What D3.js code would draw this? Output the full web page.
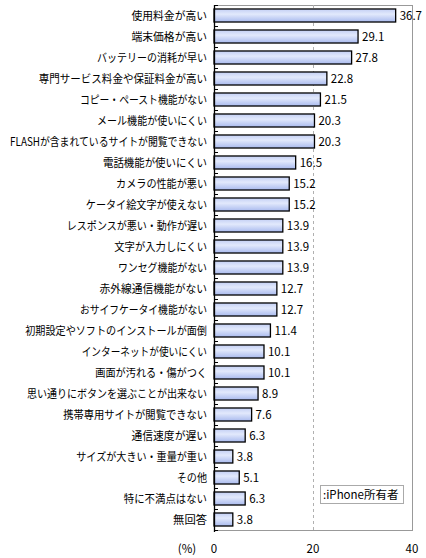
<!DOCTYPE html>
<html>
<head>
<meta charset="utf-8">
<script src="https://cdn.jsdelivr.net/npm/d3@7"></script>
<style>
  body { margin: 0; background: #fff; }
  svg { display: block; font-family: "Noto Sans CJK JP", sans-serif; }
</style>
</head>
<body>
<svg id="chart" width="426" height="558"></svg>
<script>
const categories = [
  "使用料金が高い",
  "端末価格が高い",
  "バッテリーの消耗が早い",
  "専門サービス料金や保証料金が高い",
  "コピー・ペースト機能がない",
  "メール機能が使いにくい",
  "FLASHが含まれているサイトが閲覧できない",
  "電話機能が使いにくい",
  "カメラの性能が悪い",
  "ケータイ絵文字が使えない",
  "レスポンスが悪い・動作が遅い",
  "文字が入力しにくい",
  "ワンセグ機能がない",
  "赤外線通信機能がない",
  "おサイフケータイ機能がない",
  "初期設定やソフトのインストールが面倒",
  "インターネットが使いにくい",
  "画面が汚れる・傷がつく",
  "思い通りにボタンを選ぶことが出来ない",
  "携帯専用サイトが閲覧できない",
  "通信速度が遅い",
  "サイズが大きい・重量が重い",
  "その他",
  "特に不満点はない",
  "無回答",
];
const values = [
  36.7, 29.1, 27.8, 22.8, 21.5, 20.3, 20.3, 16.5, 15.2, 15.2, 13.9, 13.9, 13.9,
  12.7, 12.7, 11.4, 10.1, 10.1, 8.9, 7.6, 6.3, 3.8, 5.1, 6.3, 3.8,
];
const xTicks = [0, 20, 40];
const seriesName = "iPhone所有者";

const svg = d3.select("#chart");

const plot = { left: 214, right: 412, top: 5, bottom: 530 };

const x = d3.scaleLinear().domain([0, 40]).range([plot.left, plot.right]);
const y = d3.scaleBand().domain(categories).range([plot.top, plot.bottom])
  .paddingInner(0.38).paddingOuter(0.19);

// the original font sets kana narrower than kanji, so squeeze labels to match
function labelWidth(s) {
  let w = 0;
  for (const ch of s) {
    const c = ch.codePointAt(0);
    if (c < 128) w += 6;
    else if (c >= 0x4e00 && c <= 0x9fff) w += 11.3;
    else w += 9.5;
  }
  return w;
}

const defs = svg.append("defs");
const grad = defs.append("linearGradient")
  .attr("id", "barGrad").attr("x1", 0).attr("y1", 0).attr("x2", 0).attr("y2", 1);
grad.append("stop").attr("offset", "0%").attr("stop-color", "#c3cff4");
grad.append("stop").attr("offset", "40%").attr("stop-color", "#e2e9fc");
grad.append("stop").attr("offset", "100%").attr("stop-color", "#a9baee");

// plot frame
svg.append("rect")
  .attr("x", plot.left + 0.5).attr("y", plot.top + 0.5)
  .attr("width", plot.right - plot.left).attr("height", plot.bottom - plot.top)
  .attr("fill", "none").attr("stroke", "#999").attr("stroke-width", 1);

// dashed grid line
svg.selectAll(".grid")
  .data(xTicks.filter(d => d > 0 && d < 40))
  .join("line")
  .attr("class", "grid")
  .attr("x1", d => Math.round(x(d)) + 0.5).attr("x2", d => Math.round(x(d)) + 0.5)
  .attr("y1", plot.top).attr("y2", plot.bottom)
  .attr("stroke", "#b0b0b0").attr("stroke-dasharray", "3,3");

// bars
svg.selectAll(".bar")
  .data(values)
  .join("rect")
  .attr("class", "bar")
  .attr("x", x(0))
  .attr("y", (d, i) => y(categories[i]))
  .attr("width", d => x(d) - x(0))
  .attr("height", y.bandwidth())
  .attr("fill", "url(#barGrad)")
  .attr("stroke", "#000").attr("stroke-width", 1.3);

// value labels
svg.selectAll(".val")
  .data(values)
  .join("text")
  .attr("class", "val")
  .attr("x", d => x(d) + 4)
  .attr("y", (d, i) => y(categories[i]) + y.bandwidth() / 2)
  .attr("dy", "0.36em")
  .attr("font-size", 11.5)
  .attr("fill", "#000")
  .text(d => d.toFixed(1));

// left axis with inward ticks at category boundaries
svg.append("line")
  .attr("x1", plot.left + 0.5).attr("x2", plot.left + 0.5)
  .attr("y1", plot.top).attr("y2", plot.bottom + 2)
  .attr("stroke", "#000").attr("stroke-width", 1.3);
const bounds = d3.range(categories.length + 1)
  .map(i => plot.top + i * (plot.bottom - plot.top) / categories.length);
svg.selectAll(".ytick")
  .data(bounds)
  .join("line")
  .attr("class", "ytick")
  .attr("x1", plot.left).attr("x2", plot.left + 4)
  .attr("y1", d => Math.round(d) + 0.5).attr("y2", d => Math.round(d) + 0.5)
  .attr("stroke", "#000").attr("stroke-width", 1);

// category labels
svg.selectAll(".cat")
  .data(categories)
  .join("text")
  .attr("class", "cat")
  .attr("x", plot.left - 7)
  .attr("y", d => y(d) + y.bandwidth() / 2)
  .attr("dy", "0.36em")
  .attr("text-anchor", "end")
  .attr("font-size", 11.5)
  .attr("fill", "#000")
  .attr("textLength", d => Math.min(labelWidth(d), 205))
  .attr("lengthAdjust", "spacingAndGlyphs")
  .text(d => d);

// x tick labels
svg.selectAll(".xtick")
  .data(xTicks)
  .join("text")
  .attr("class", "xtick")
  .attr("x", d => x(d))
  .attr("y", 553)
  .attr("text-anchor", "middle")
  .attr("font-size", 11.5)
  .text(d => d);

svg.append("text")
  .attr("x", 187).attr("y", 553)
  .attr("text-anchor", "middle")
  .attr("font-size", 11.5)
  .text("(%)");

// legend
svg.append("rect")
  .attr("x", 320.5).attr("y", 485.5).attr("width", 83).attr("height", 18)
  .attr("fill", "#fff").attr("stroke", "#aaa");
svg.append("text")
  .attr("x", 323).attr("y", 498.5)
  .attr("font-size", 11.5)
  .text(":" + seriesName);
</script>
</body>
</html>
